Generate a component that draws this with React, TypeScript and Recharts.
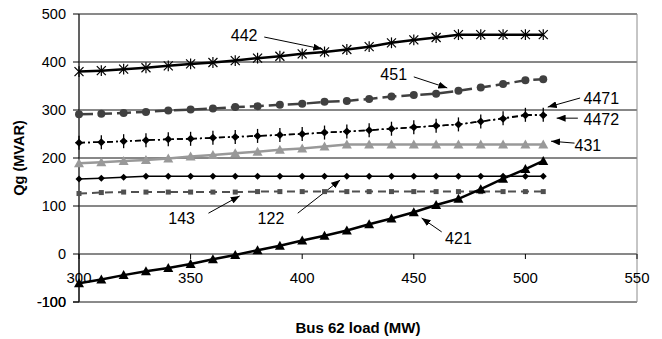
import { CartesianGrid, Line, LineChart, ReferenceArea, ReferenceDot, ReferenceLine, XAxis, YAxis } from "recharts";

const loads = [300, 310, 320, 330, 340, 350, 360, 370, 380, 390, 400, 410, 420, 430, 440, 450, 460, 470, 480, 490, 500, 508];

const gen442 = [380, 382, 385, 388, 392, 396, 399, 403, 408, 412, 417, 421, 426, 432, 440, 446, 451, 457, 457, 457, 457, 457];
const gen451 = [291, 292, 294, 296, 299, 301, 303, 306, 308, 311, 313, 317, 319, 323, 328, 331, 334, 340, 347, 354, 362, 364];
const gen4471 = [232, 233, 235, 237, 239, 240, 242, 244, 246, 248, 250, 253, 255, 258, 261, 264, 267, 270, 276, 283, 290, 290];
const gen4472 = [232, 233, 235, 237, 239, 240, 242, 244, 246, 248, 250, 253, 255, 258, 261, 264, 267, 270, 276, 282, 289, 289];
const gen431 = [189, 191, 194, 196, 199, 203, 206, 210, 213, 217, 220, 224, 228, 228, 228, 228, 228, 228, 228, 228, 228, 228];
const gen122 = [156, 158, 160, 162, 162, 162, 162, 162, 162, 162, 162, 162, 162, 162, 162, 162, 162, 162, 162, 162, 162, 162];
const gen143 = [126, 128, 129, 129, 129, 129, 129, 129, 130, 130, 130, 130, 130, 130, 130, 130, 130, 130, 130, 130, 130, 130];
const gen421 = [-61, -53, -44, -36, -29, -21, -11, -2, 8, 17, 28, 38, 49, 62, 74, 87, 102, 115, 135, 157, 177, 194];

const xTicks = [300, 350, 400, 450, 500, 550];
const yTicks = [-100, 0, 100, 200, 300, 400, 500];

// annotation labels and their arrows, in data units
const labelNames = ["442", "451", "4471", "4472", "431", "143", "122", "421"];
const labelPos = [[374, 456], [441, 373], [534, 323], [534, 281], [528, 227], [346, 75], [386, 75], [470, 33]];
const arrowFrom = [[383, 452], [450, 369], [524.5, 325], [523.5, 283], [522, 231], [358, 85], [398, 85], [462.5, 46]];
const arrowTo = [[409, 427], [465, 346], [510, 306], [514, 283], [511.5, 235], [372, 121], [417, 154], [453.5, 75]];

const data = loads.map((x, i) => ({
  x,
  g442: gen442[i],
  g451: gen451[i],
  g4471: gen4471[i],
  g4472: gen4472[i],
  g431: gen431[i],
  g122: gen122[i],
  g143: gen143[i],
  g421: gen421[i],
}));

const W = 662;
const H = 339;
const M = { top: 14, right: 25, bottom: 0, left: 0 };
const Y_AXIS_W = 79;
const X_AXIS_H = 37;
const PLOT_H = H - M.top - M.bottom - X_AXIS_H;
const PLOT_BOTTOM = M.top + PLOT_H;
const PLOT_RIGHT = W - M.right;
const ZERO_Y = M.top + (PLOT_H * 500) / 600;
const FONT = "'Liberation Sans', Arial, sans-serif";

type Shape = "star" | "circle" | "plus" | "diamond" | "triangle" | "square";

const makeDot = (shape: Shape, color: string, s: number) => (p: any) => {
  const { cx, cy, index } = p;
  if (cx == null || cy == null) return <g key={index} />;
  switch (shape) {
    case "star":
      return (
        <g key={index} stroke={color} strokeWidth={1.2}>
          <line x1={cx - s} y1={cy - s} x2={cx + s} y2={cy + s} />
          <line x1={cx - s} y1={cy + s} x2={cx + s} y2={cy - s} />
          <line x1={cx} y1={cy - s * 1.2} x2={cx} y2={cy + s * 1.2} />
        </g>
      );
    case "circle":
      return <circle key={index} cx={cx} cy={cy} r={s} fill={color} />;
    case "plus":
      return (
        <g key={index} stroke={color} strokeWidth={1.3}>
          <line x1={cx} y1={cy - s} x2={cx} y2={cy + s} />
          <line x1={cx - s / 2} y1={cy} x2={cx + s / 2} y2={cy} />
        </g>
      );
    case "diamond":
      return <polygon key={index} points={`${cx},${cy - s} ${cx + s},${cy} ${cx},${cy + s} ${cx - s},${cy}`} fill={color} />;
    case "triangle":
      return <polygon key={index} points={`${cx},${cy - s} ${cx + s},${cy + s * 0.8} ${cx - s},${cy + s * 0.8}`} fill={color} />;
    default:
      return <rect key={index} x={cx - s} y={cy - s} width={s * 2} height={s * 2} fill={color} />;
  }
};

const XTick = ({ x, payload }: any) => (
  <g>
    <line x1={x} x2={x} y1={ZERO_Y} y2={ZERO_Y + 5} stroke="#000" />
    <text x={x} y={ZERO_Y + 29} textAnchor="middle" fontSize={15} fill="#000" fontFamily={FONT}>
      {payload.value}
    </text>
  </g>
);

const YTick = ({ x, y, payload }: any) => (
  <text x={x} y={y} dy="0.355em" textAnchor="end" fontSize={14.5} fill="#000" fontFamily={FONT}>
    {payload.value}
  </text>
);

const arrowShape = (p: any) => (
  <line x1={p.x1} y1={p.y1} x2={p.x2} y2={p.y2} stroke="#000" strokeWidth={1} markerEnd="url(#arrowHead)" />
);

const App = () => (
  <div style={{ position: "absolute", left: 0, top: 0, background: "#fff" }}>
    <LineChart width={W} height={H} data={data} margin={M}>
      <defs>
        <marker id="arrowHead" markerUnits="userSpaceOnUse" markerWidth={9} markerHeight={7} refX={9} refY={3.5} orient="auto">
          <path d="M0,0 L9,3.5 L0,7 z" fill="#000" />
        </marker>
      </defs>
      <CartesianGrid vertical={false} stroke="#111" horizontalValues={yTicks} />
      <ReferenceArea x1={300} x2={550} y1={-100} y2={500} fill="none" fillOpacity={0} stroke="#8c8c8c" strokeWidth={1} />
      <XAxis
        dataKey="x"
        type="number"
        domain={[300, 550]}
        ticks={xTicks}
        height={X_AXIS_H}
        axisLine={false}
        tickLine={false}
        tick={<XTick />}
        interval={0}
      />
      <YAxis
        type="number"
        domain={[-100, 500]}
        ticks={yTicks}
        width={Y_AXIS_W}
        axisLine={{ stroke: "#000" }}
        tickLine={{ stroke: "#000" }}
        tickSize={6}
        tickMargin={7}
        tick={<YTick />}
        interval={0}
      />
      <Line dataKey="g143" stroke="#505050" strokeWidth={2} strokeDasharray="8 5" dot={makeDot("square", "#505050", 2.5)} activeDot={false} isAnimationActive={false} />
      <Line dataKey="g122" stroke="#000" strokeWidth={1.5} dot={makeDot("diamond", "#000", 3.5)} activeDot={false} isAnimationActive={false} />
      <Line dataKey="g431" stroke="#999" strokeWidth={2.5} dot={makeDot("triangle", "#999", 5)} activeDot={false} isAnimationActive={false} />
      <Line dataKey="g4472" stroke="#000" strokeWidth={1.5} strokeDasharray="6 3 2 3" dot={makeDot("diamond", "#000", 4)} activeDot={false} isAnimationActive={false} />
      <Line dataKey="g4471" stroke="#000" strokeWidth={1.5} strokeDasharray="6 3 2 3" dot={makeDot("plus", "#000", 7)} activeDot={false} isAnimationActive={false} />
      <Line dataKey="g451" stroke="#404040" strokeWidth={2.5} strokeDasharray="14 5" dot={makeDot("circle", "#404040", 4)} activeDot={false} isAnimationActive={false} />
      <Line dataKey="g442" stroke="#000" strokeWidth={2.5} dot={makeDot("star", "#000", 4.5)} activeDot={false} isAnimationActive={false} />
      <Line dataKey="g421" stroke="#000" strokeWidth={2.5} dot={makeDot("triangle", "#000", 5)} activeDot={false} isAnimationActive={false} />
      {labelNames.map((name, i) => (
        <ReferenceLine
          key={`a${name}`}
          segment={[
            { x: arrowFrom[i][0], y: arrowFrom[i][1] },
            { x: arrowTo[i][0], y: arrowTo[i][1] },
          ]}
          shape={arrowShape}
        />
      ))}
      {labelNames.map((name, i) => (
        <ReferenceDot
          key={`l${name}`}
          x={labelPos[i][0]}
          y={labelPos[i][1]}
          r={0}
          shape={(p: any) => (
            <text x={p.cx} y={p.cy} textAnchor="middle" dominantBaseline="central" fontSize={16} fill="#000" fontFamily={FONT}>
              {name}
            </text>
          )}
        />
      ))}
      {/* bottom edge of the plot frame and the lowest y tick */}
      <line x1={Y_AXIS_W} x2={PLOT_RIGHT} y1={PLOT_BOTTOM} y2={PLOT_BOTTOM} stroke="#8c8c8c" />
      <line x1={Y_AXIS_W} x2={Y_AXIS_W} y1={ZERO_Y} y2={PLOT_BOTTOM} stroke="#000" />
      <line x1={Y_AXIS_W - 6} x2={Y_AXIS_W} y1={PLOT_BOTTOM} y2={PLOT_BOTTOM} stroke="#000" />
      <text x={Y_AXIS_W - 13} y={PLOT_BOTTOM} dy="0.355em" textAnchor="end" fontSize={14.5} fill="#000" fontFamily={FONT}>
        -100
      </text>
      <text x={19} y={158} transform="rotate(-90 19 158)" textAnchor="middle" dominantBaseline="central" fontSize={14.5} fontWeight="bold" fill="#000" fontFamily={FONT}>
        Qg (MVAR)
      </text>
      <text x={358} y={333} textAnchor="middle" fontSize={15} fontWeight="bold" fill="#000" fontFamily={FONT}>
        Bus 62 load (MW)
      </text>
    </LineChart>
  </div>
);

export default App;
